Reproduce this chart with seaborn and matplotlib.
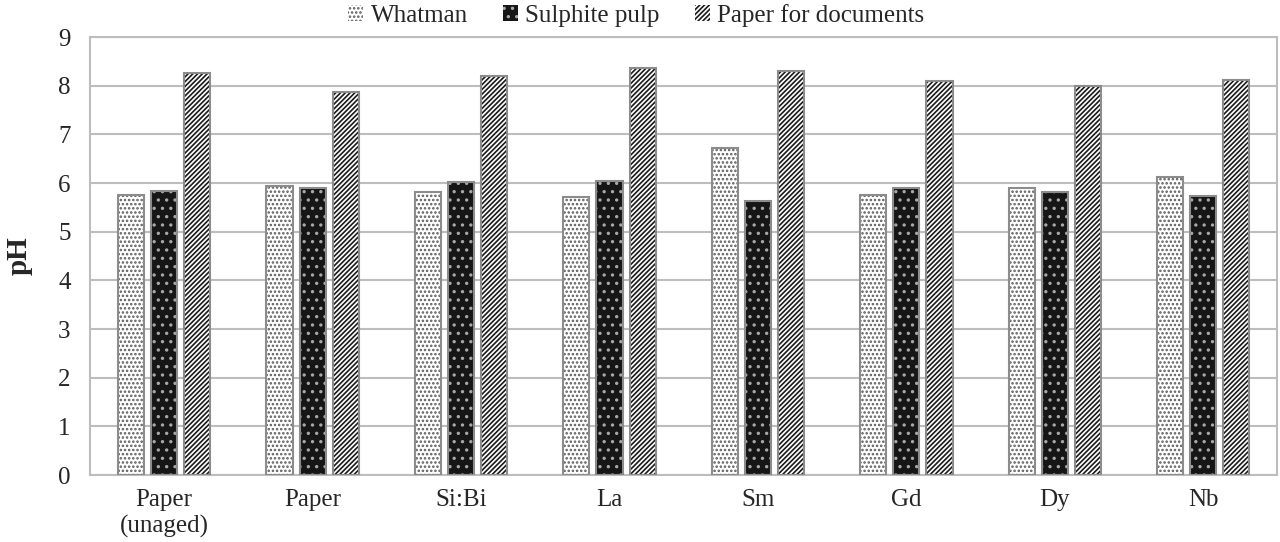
import matplotlib
matplotlib.use("Agg")
import matplotlib.pyplot as plt
from matplotlib.patches import Rectangle
import pandas as pd
import seaborn as sns

# values
categories = ["Paper\n(unaged)", "Paper", "Si:Bi", "La", "Sm", "Gd", "Dy", "Nb"]
whatman = [5.75, 5.93, 5.82, 5.72, 6.72, 5.75, 5.90, 6.12]
sulphite = [5.83, 5.89, 6.02, 6.04, 5.63, 5.89, 5.82, 5.74]
documents = [8.27, 7.88, 8.20, 8.36, 8.31, 8.09, 7.99, 8.11]
series = ["Whatman", "Sulphite pulp", "Paper for documents"]

df = pd.DataFrame({
    "cat": categories * 3,
    "pH": whatman + sulphite + documents,
    "paper": [s for s in series for _ in categories],
})

# face colour, hatch pattern, hatch colour
styles = {
    "Whatman": ("white", "....", "#5a5a5a"),
    "Sulphite pulp": ("#161616", "..", "#a8a8a8"),
    "Paper for documents": ("white", "///////", "#1a1a1a"),
}

sns.set_style("white")
plt.rcParams["font.family"] = ["Liberation Serif", "DejaVu Serif"]
plt.rcParams["hatch.linewidth"] = 1.2

fig = plt.figure(figsize=(12.8, 5.42), dpi=100)
ax = fig.add_axes([0.0703, 0.1236, 0.9277, 0.8081])

sns.barplot(data=df, x="cat", y="pH", hue="paper", order=categories,
            hue_order=series, width=0.67, gap=0.21, ax=ax, legend=False,
            palette=["white", "#161616", "white"], saturation=1)

outlines = []
for cont, name in zip(ax.containers, series):
    fc, hatch, hc = styles[name]
    for p in cont:
        p.set_facecolor(fc)
        p.set_hatch(hatch)
        p.set_edgecolor(hc)
        p.set_linewidth(0)
        outlines.append((p.get_x(), p.get_width(), p.get_height()))
for x, w, h in outlines:
    ax.add_patch(Rectangle((x, 0), w, h, fill=False, edgecolor="#8c8c8c",
                           linewidth=1.5, zorder=3))

ax.set_xlim(-0.5, 7.5)
ax.set_ylim(0, 9)
ax.set_yticks(range(10))
ax.yaxis.grid(True, color="#bdbdbd", linewidth=1.5)
ax.set_axisbelow(True)
for s in ax.spines.values():
    s.set_color("#bdbdbd")
    s.set_linewidth(1.5)
ax.tick_params(axis="both", length=0, labelsize=18)
ax.tick_params(axis="y", pad=14)
ax.tick_params(axis="x", pad=10)
ax.set_xlabel("")
ax.set_ylabel("pH", fontsize=21, fontweight="bold", labelpad=18)

# legend handles
handles = []
for name in series:
    fc, hatch, hc = styles[name]
    handles.append(Rectangle((0, 0), 1, 1, facecolor=fc, hatch=hatch,
                             edgecolor=hc, linewidth=0))
fig.legend(handles, series, loc="upper center", bbox_to_anchor=(0.497, 1.035),
           ncol=3, frameon=False, fontsize=18, handlelength=0.6,
           handleheight=0.6, handletextpad=0.3, columnspacing=1.4)

fig.savefig("out.png", dpi=100)
